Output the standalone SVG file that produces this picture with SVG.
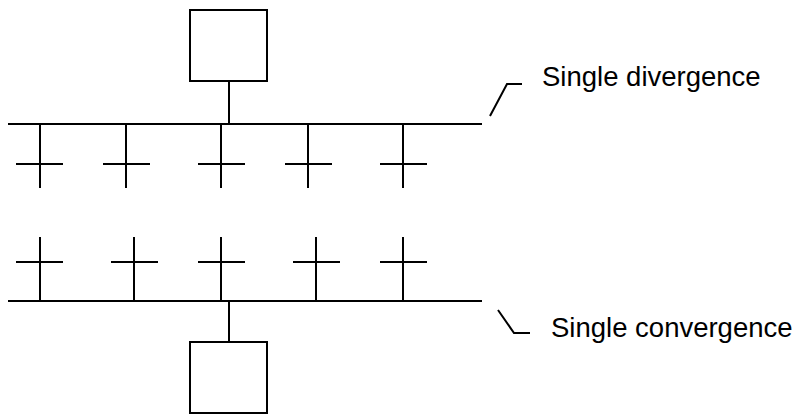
<svg xmlns="http://www.w3.org/2000/svg" width="799" height="416" viewBox="0 0 799 416">
<style>
.ln{stroke:#000;stroke-width:2;fill:none}
.box{stroke:#000;stroke-width:2;fill:#fff}
.lbl{font-family:"Liberation Sans",Arial,sans-serif;font-size:27.5px;fill:#000}
</style>
<rect width="799" height="416" fill="#fff"/>
<g id="step-top"><rect class="box" x="190" y="10" width="77" height="71"/></g>
<g id="step-bottom"><rect class="box" x="190" y="342" width="77" height="71"/></g>
<g id="connectors">
<path class="ln" d="M229 81V124M8 124H482"/>
<path class="ln" d="M40 124V188M126 124V188M221 124V188M308 124V188M403 124V188"/>
<path class="ln" d="M16 164H63M103 164H150M198 164H245M285 164H332M380 164H427"/>
<path class="ln" d="M8 301H482M229 301V342"/>
<path class="ln" d="M40 237V301M134 237V301M221 237V301M316 237V301M403 237V301"/>
<path class="ln" d="M16 262H63M111 262H158M198 262H245M293 262H340M380 262H427"/>
<path class="ln" d="M490 116L507 84H522"/>
<path class="ln" d="M498 310L514 333H530"/>
</g>
<g id="label-divergence"><text class="lbl" x="542" y="85.5">Single divergence</text></g>
<g id="label-convergence"><text class="lbl" x="551" y="336.5">Single convergence</text></g>
</svg>
